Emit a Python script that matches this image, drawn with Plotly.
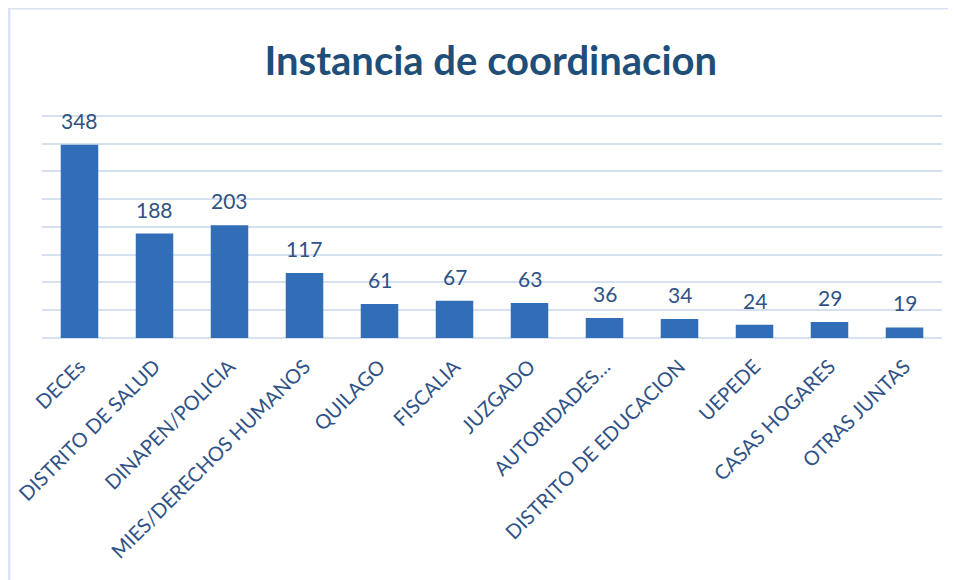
import plotly.graph_objects as go

categories = ["DECEs", "DISTRITO DE SALUD", "DINAPEN/POLICIA", "MIES/DERECHOS HUMANOS",
              "QUILAGO", "FISCALIA", "JUZGADO", "AUTORIDADES…", "DISTRITO DE EDUCACION",
              "UEPEDE", "CASAS HOGARES", "OTRAS JUNTAS"]
values = [348, 188, 203, 117, 61, 67, 63, 36, 34, 24, 29, 19]
title_text = "Instancia de coordinacion"

label_color = "#2F5286"
grid_color = "#D5E0F1"
font_family = "Lato, Open Sans, sans-serif"

fig = go.Figure()
fig.add_trace(go.Bar(
    x=categories, y=values,
    marker=dict(color="#326DB8", line=dict(width=0)),
    width=0.5,
    hoverinfo="x+y",
))

for c, v in zip(categories, values):
    fig.add_annotation(x=c, y=v, text=str(v), showarrow=False, yanchor="bottom",
                       yshift=10, font=dict(size=21, color=label_color, family=font_family))

fig.update_layout(
    width=956, height=580,
    margin=dict(l=34, r=22, t=105, b=250),
    paper_bgcolor="white", plot_bgcolor="white",
    title=dict(text="<b>" + title_text + "</b>", x=0.505, xanchor="center", y=0.908, yanchor="middle",
               font=dict(size=40, color="#1F4E79", family=font_family)),
    showlegend=False,
    xaxis=dict(tickangle=-45, tickfont=dict(size=20, color=label_color, family=font_family),
               showgrid=False, showline=False, ticks="", automargin=False, ticklabelstandoff=12),
    yaxis=dict(range=[0, 405], tick0=0, dtick=50, showticklabels=False, showgrid=True,
               gridcolor=grid_color, gridwidth=2, zeroline=True, zerolinecolor=grid_color,
               zerolinewidth=2, ticks=""),
    shapes=[dict(type="rect", xref="paper", yref="paper", x0=-0.0367, x1=2, y0=-3, y1=1.467,
                 line=dict(color="#D9E3F3", width=3), fillcolor="rgba(0,0,0,0)", layer="below")],
)

fig.write_html("out.html")
